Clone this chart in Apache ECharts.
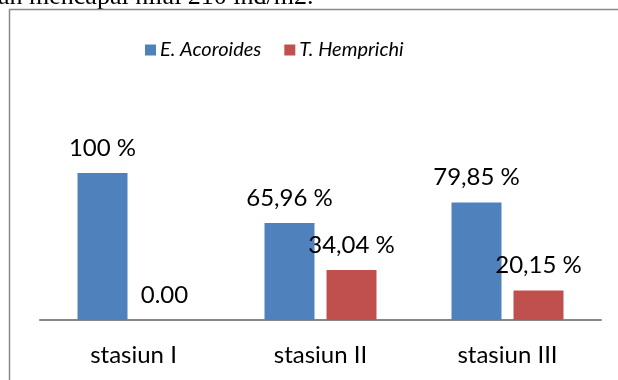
<!DOCTYPE html>
<html>
<head>
<meta charset="utf-8">
<script src="https://cdn.jsdelivr.net/npm/echarts@6/dist/echarts.min.js"></script>
<style>
  html, body { margin: 0; padding: 0; background: #fff; }
  #chart { width: 618px; height: 380px; }
</style>
</head>
<body>
<div id="chart"></div>
<script>
var stations = ['stasiun I', 'stasiun II', 'stasiun III'];
var acoroides = [100, 65.96, 79.85];
var hemprichi = [0, 34.04, 20.15];
var acoroidesLabels = ['100 %', '65,96 %', '79,85 %'];
var hemprichiLabels = ['0.00', '34,04 %', '20,15 %'];

var myChart = echarts.init(document.getElementById('chart'));

var labelStyle = {
    show: true,
    position: 'top',
    distance: 13,
    color: '#000',
    fontFamily: 'Lato',
    fontSize: 24
};

myChart.setOption({
    animation: false,
    color: ['#4F81BD', '#C0504D'],
    graphic: [
        // sisa teks dokumen di atas grafik
        {
            type: 'text',
            left: -2,
            top: -16,
            style: {
                text: 'an mencapai nilai 210 ind/m2.',
                font: '26px "Liberation Serif"',
                fill: '#000'
            }
        },
        // bingkai grafik
        {
            type: 'rect',
            shape: { x: 9.5, y: 9.5, width: 640, height: 400 },
            style: { fill: 'none', stroke: '#888', lineWidth: 1.5 }
        }
    ],
    legend: {
        top: 35,
        left: 140,
        itemWidth: 11,
        itemHeight: 11,
        itemGap: 23,
        icon: 'rect',
        textStyle: {
            fontFamily: 'Lato',
            fontStyle: 'italic',
            fontSize: 20,
            color: '#000',
            padding: [0, 0, 0, -1]
        },
        data: ['E. Acoroides', 'T. Hemprichi']
    },
    grid: {
        left: 40,
        right: 17,
        top: 173,
        bottom: 60
    },
    xAxis: {
        type: 'category',
        data: stations,
        axisLine: { lineStyle: { color: '#868686', width: 2 } },
        axisTick: { show: false },
        axisLabel: {
            margin: 23,
            color: '#000',
            fontFamily: 'Lato',
            fontSize: 24
        }
    },
    yAxis: {
        type: 'value',
        min: 0,
        max: 100,
        show: false,
        splitLine: { show: false }
    },
    series: [
        {
            name: 'E. Acoroides',
            type: 'bar',
            barWidth: 50,
            barGap: '24%',
            data: acoroides,
            label: Object.assign({}, labelStyle, {
                formatter: function (p) { return acoroidesLabels[p.dataIndex]; }
            })
        },
        {
            name: 'T. Hemprichi',
            type: 'bar',
            barWidth: 50,
            data: hemprichi,
            label: Object.assign({}, labelStyle, {
                formatter: function (p) { return hemprichiLabels[p.dataIndex]; }
            })
        }
    ]
});
</script>
</body>
</html>
